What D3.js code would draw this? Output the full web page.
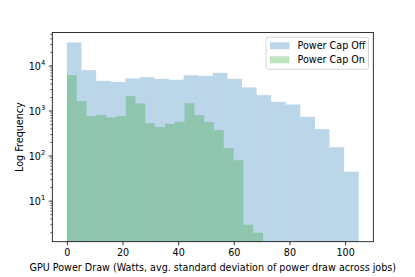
<!DOCTYPE html>
<html>
<head>
<meta charset="utf-8">
<script src="https://cdn.jsdelivr.net/npm/d3@7"></script>
<style>
  html, body { margin: 0; padding: 0; background: #fff; }
  svg { display: block; }
  text { font-family: "DejaVu Sans", sans-serif; fill: #000; }
</style>
</head>
<body>
<div id="chart"></div>
<script>
// ---- data ----
const seriesNames = ["Power Cap Off", "Power Cap On"];
const offRange = [0, 104.9];
const offCounts = [33200, 8070, 4670, 4440, 5290, 5650, 5170, 4920, 6250, 6040,
                   7030, 5170, 3340, 2250, 1600, 1400, 743, 397, 158, 45];
const onRange = [0, 70.5];
const onCounts = [6250, 1660, 771, 811, 721, 771, 2140, 1470, 539, 440,
                  520, 576, 1497, 811, 568, 377, 150, 81, 3, 2];
const xTicks = [0, 20, 40, 60, 80, 100];
const yTickExps = [1, 2, 3, 4];
const xLabel = "GPU Power Draw (Watts, avg. standard deviation of power draw across jobs)";
const yLabel = "Log Frequency";

// ---- layout ----
const W = 415, H = 277;
const L = 52.3, R = 373.3, T = 32.5, B = 241.7;
const offColor = "#1f77b4", onColor = "#2ca02c", alpha = 0.3;

const svg = d3.select("#chart").append("svg").attr("width", W).attr("height", H);

const x = d3.scaleLinear().domain([-5.245, 110.14]).range([L, R]);
const y = d3.scaleLog().domain([1.258, 55300]).range([B, T]);

function bins(range, counts) {
  const n = counts.length, w = (range[1] - range[0]) / n;
  return counts.map((c, i) => ({x0: range[0] + i * w, x1: range[0] + (i + 1) * w, c}));
}

const plot = svg.append("g");
[[offRange, offCounts, offColor], [onRange, onCounts, onColor]].forEach(([rg, cs, col]) => {
  plot.append("g").selectAll("rect").data(bins(rg, cs)).join("rect")
    .attr("x", d => x(d.x0))
    .attr("width", d => x(d.x1) - x(d.x0))
    .attr("y", d => y(d.c))
    .attr("height", d => B - y(d.c))
    .attr("fill", col)
    .attr("fill-opacity", alpha);
});

// x axis
const xAxis = d3.axisBottom(x).tickValues(xTicks).tickSize(3.5).tickPadding(3.5).tickFormat(d3.format("d"));
const gx = svg.append("g").attr("transform", `translate(0,${B})`).call(xAxis);
gx.select(".domain").remove();
gx.selectAll("line").attr("stroke", "#000").attr("stroke-width", 0.8);
gx.selectAll("text").attr("font-size", 9.6).attr("font-family", "DejaVu Sans");

// y axis: major + minor log ticks
const majors = yTickExps.map(e => Math.pow(10, e));
const minors = [];
for (let e = 0; e <= 4; e++) for (let m = 2; m <= 9; m++) {
  const v = m * Math.pow(10, e);
  if (v >= y.domain()[0] && v <= y.domain()[1]) minors.push(v);
}
const gy = svg.append("g");
gy.selectAll("line.minor").data(minors).join("line")
  .attr("x1", L - 2).attr("x2", L).attr("y1", d => y(d)).attr("y2", d => y(d))
  .attr("stroke", "#000").attr("stroke-width", 0.6);
gy.selectAll("line.major").data(majors).join("line")
  .attr("x1", L - 3.5).attr("x2", L).attr("y1", d => y(d)).attr("y2", d => y(d))
  .attr("stroke", "#000").attr("stroke-width", 0.8);
const yt = gy.selectAll("text.ylab").data(yTickExps).join("text")
  .attr("x", L - 7).attr("y", d => y(Math.pow(10, d)) + 3.6)
  .attr("text-anchor", "end").attr("font-size", 9.6);
yt.append("tspan").text("10");
yt.append("tspan").attr("dy", -4.5).attr("font-size", 6.8).text(d => d);

// spines
svg.append("rect").attr("x", L).attr("y", T).attr("width", R - L).attr("height", B - T)
  .attr("fill", "none").attr("stroke", "#000").attr("stroke-width", 0.8);

// axis labels
svg.append("text").attr("x", (L + R) / 2).attr("y", 271).attr("text-anchor", "middle")
  .attr("font-size", 9.6).text(xLabel);
svg.append("text").attr("transform", `translate(23,${(T + B) / 2}) rotate(-90)`)
  .attr("text-anchor", "middle").attr("font-size", 9.6).text(yLabel);

// legend
const lg = svg.append("g");
lg.append("rect").attr("x", 266).attr("y", 37.3).attr("width", 102.5).attr("height", 32)
  .attr("rx", 2).attr("fill", "#fff").attr("fill-opacity", 0.8)
  .attr("stroke", "#ccc").attr("stroke-width", 0.8);
[[seriesNames[0], offColor], [seriesNames[1], onColor]].forEach(([name, col], i) => {
  const cy = 45.8 + i * 14;
  lg.append("rect").attr("x", 270).attr("y", cy - 3.5).attr("width", 19.5).attr("height", 7)
    .attr("fill", col).attr("fill-opacity", alpha);
  lg.append("text").attr("x", 297.5).attr("y", cy + 3.5).attr("font-size", 9.6).text(name);
});
</script>
</body>
</html>
